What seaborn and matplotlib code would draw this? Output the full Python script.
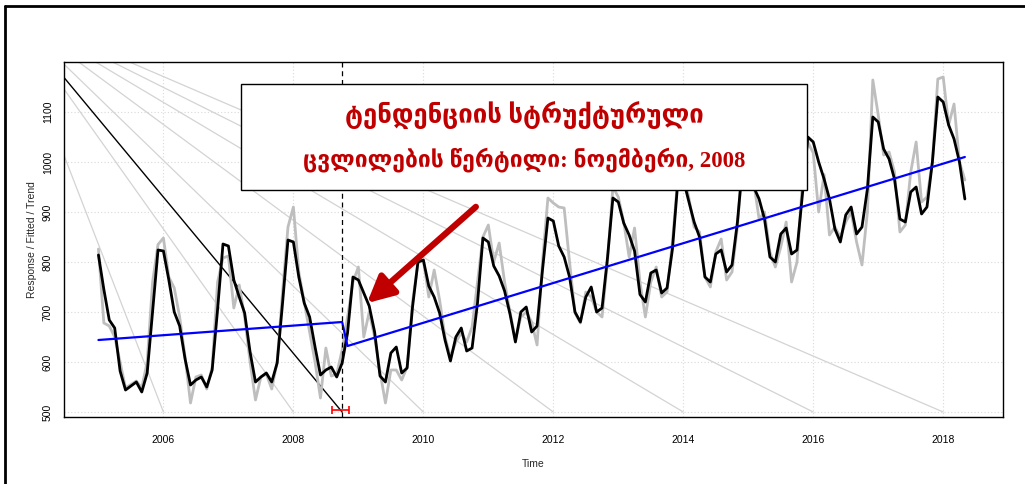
import numpy as np
import pandas as pd
import matplotlib
matplotlib.use("Agg")
import matplotlib.pyplot as plt
from matplotlib.patches import Rectangle
import seaborn as sns

# =========================
# DADOS
# =========================
start_year = 2005
n_months = 161  # Jan 2005 .. May 2018

fitted = [
    814, 745, 684, 668, 582, 544, 552, 560, 540, 578, 700, 824,    # 2005
    822, 764, 700, 672, 606, 554, 564, 570, 550, 584, 705, 836,    # 2006
    832, 764, 730, 698, 620, 560, 570, 578, 560, 598, 718, 844,    # 2007
    840, 770, 718, 690, 630, 574, 584, 590, 570, 598, 658, 770,    # 2008
    764, 738, 712, 660, 572, 560, 618, 630, 578, 588, 710, 800,    # 2009
    804, 752, 730, 698, 644, 602, 650, 668, 622, 628, 718, 848,    # 2010
    840, 792, 772, 742, 696, 640, 700, 710, 660, 672, 784, 888,    # 2011
    882, 832, 810, 770, 700, 680, 730, 750, 700, 708, 808, 928,    # 2012
    920, 878, 854, 822, 735, 720, 778, 784, 738, 748, 826, 962,    # 2013
    965, 922, 880, 850, 770, 760, 816, 824, 780, 794, 880, 1002,   # 2014
    1005, 950, 926, 886, 810, 800, 856, 868, 816, 824, 935, 1050,  # 2015
    1040, 1000, 966, 926, 866, 840, 894, 910, 856, 870, 946, 1090, # 2016
    1080, 1026, 1006, 966, 886, 880, 940, 950, 896, 910, 1000, 1130,  # 2017
    1120, 1074, 1046, 1000, 926,                                   # 2018
]

response = [
    826, 678, 672, 650, 600, 548, 555, 562, 548, 600, 760, 835,    # 2005
    848, 770, 748, 690, 610, 518, 570, 574, 546, 590, 760, 808,    # 2006
    812, 708, 754, 690, 600, 524, 570, 576, 546, 600, 740, 870,    # 2007
    910, 780, 720, 660, 600, 528, 628, 572, 576, 624, 690, 760,    # 2008
    790, 650, 700, 650, 580, 518, 584, 584, 564, 590, 720, 798,    # 2009
    804, 730, 784, 724, 650, 610, 640, 658, 640, 670, 760, 850,    # 2010
    874, 800, 838, 760, 700, 644, 690, 700, 680, 634, 800, 928,    # 2011
    918, 910, 908, 800, 698, 678, 740, 730, 700, 690, 800, 950,    # 2012
    930, 880, 810, 868, 760, 690, 760, 790, 730, 740, 840, 970,    # 2013
    980, 930, 870, 860, 770, 750, 820, 846, 764, 780, 870, 1010,   # 2014
    1000, 960, 886, 900, 820, 790, 830, 880, 760, 800, 960, 1040,  # 2015
    1018, 900, 975, 854, 870, 850, 880, 900, 840, 794, 900, 1164,  # 2016
    1094, 1014, 1020, 980, 860, 874, 980, 1040, 920, 930, 1000, 1166,  # 2017
    1170, 1074, 1116, 1000, 964,                                   # 2018
]

# tendência por segmentos (início/fim de cada segmento)
trend_t = [2005.0, 2008.75, 2008.833, 2018.333]
trend_v = [644, 680, 632, 1010]

break_time = 2008.75
ci_low, ci_high = 2008.6, 2008.85

# linhas de referência em leque
fan_origin = (2003.6, 1305)
fan_ends = [2006, 2008, 2010, 2012, 2014, 2016, 2018]

title_lines = ["ტენდენციის სტრუქტურული", "ცვლილების წერტილი: ნოემბერი, 2008"]
title_sizes = [18.5, 16.5]


def plot_bfast():
    sns.set_style("white")
    plt.rcParams["font.family"] = ["Liberation Sans", "DejaVu Sans"]

    t = start_year + np.arange(n_months) / 12.0
    df = pd.DataFrame({"Time": t, "Response": response, "Fitted": fitted})
    tr = pd.DataFrame({"Time": trend_t, "Trend": trend_v})

    fig = plt.figure(figsize=(10.25, 4.84), dpi=100)
    ax = fig.add_axes([64 / 1025, 1 - 417 / 484, 939 / 1025, 355 / 484])
    ax.set_xlim(2004.47, 2018.92)
    ax.set_ylim(490, 1200)

    # grade pontilhada
    for x in range(2006, 2019, 2):
        ax.axvline(x, color="#d9d9d9", lw=0.8, ls=(0, (1, 2)), zorder=0)
    for y in range(500, 1101, 100):
        ax.axhline(y, color="#d9d9d9", lw=0.8, ls=(0, (1, 2)), zorder=0)

    # leque
    for xe in fan_ends:
        ax.plot([fan_origin[0], xe], [fan_origin[1], 500], color="#d3d3d3", lw=0.9, zorder=1)
    ax.plot([fan_origin[0], break_time], [fan_origin[1], 500], color="black", lw=1.0, zorder=2)

    sns.lineplot(data=df, x="Time", y="Response", color="#bebebe", lw=2.0, ax=ax, zorder=3)
    sns.lineplot(data=df, x="Time", y="Fitted", color="black", lw=2.0, ax=ax, zorder=4)
    sns.lineplot(data=tr, x="Time", y="Trend", color="#0000ff", lw=1.6, ax=ax, zorder=5)

    ax.axvline(break_time, color="black", lw=0.9, ls=(0, (4, 3)), zorder=6)
    ax.errorbar([(ci_low + ci_high) / 2], [503], xerr=[[(ci_high - ci_low) / 2]],
                color="red", lw=1.2, capsize=3, capthick=1.2, zorder=7)

    ax.set_xticks(range(2006, 2019, 2))
    ax.set_yticks(range(500, 1101, 100))
    ax.tick_params(axis="both", direction="out", length=5, width=0.8, labelsize=7.5, colors="black")
    ax.tick_params(axis="x", pad=8)
    ax.tick_params(axis="y", pad=3)
    plt.setp(ax.get_yticklabels(), rotation=90, va="center")
    ax.set_xlabel("Time", fontsize=7.5, labelpad=10)
    ax.set_ylabel("Response / Fitted / Trend", fontsize=7.5, labelpad=4)
    for s in ax.spines.values():
        s.set_visible(True)
        s.set_color("black")
        s.set_linewidth(1.0)

    # seta
    ax.annotate("", xy=(2009.10, 714), xytext=(2010.84, 914),
                arrowprops=dict(arrowstyle="-|>,head_length=0.8,head_width=0.4",
                                color="#c00000", lw=4.5, mutation_scale=20), zorder=8)

    # caixa de texto
    box = Rectangle((241 / 1025, 1 - 190 / 484), 566 / 1025, 106 / 484, transform=fig.transFigure,
                    facecolor="white", edgecolor="black", lw=1.0, zorder=10, clip_on=False)
    ax.add_patch(box)
    for ypx, line, fs in zip([116, 160], title_lines, title_sizes):
        fig.text(524 / 1025, 1 - ypx / 484, line, ha="center", va="center", fontsize=fs,
                 fontweight="bold", color="#c00000",
                 family=["Liberation Serif", "DejaVu Sans"], zorder=11)

    # moldura
    fig.add_artist(plt.Line2D([5 / 1025, 5 / 1025], [0, 1 - 6 / 484], transform=fig.transFigure,
                              color="black", lw=2))
    fig.add_artist(plt.Line2D([5 / 1025, 1], [1 - 6 / 484, 1 - 6 / 484], transform=fig.transFigure,
                              color="black", lw=2))

    fig.savefig("out.png", dpi=100)
    plt.close(fig)


if __name__ == "__main__":
    plot_bfast()
